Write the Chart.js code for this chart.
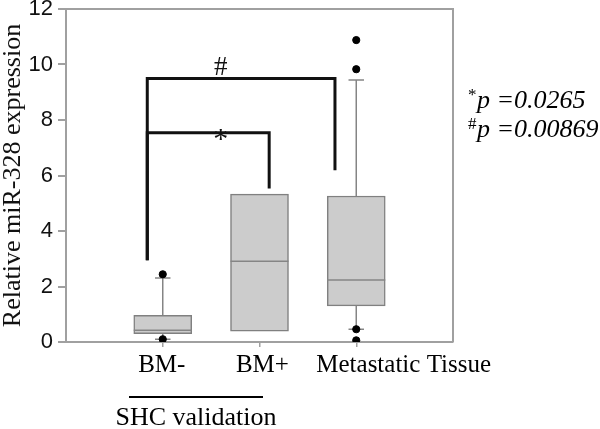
<!DOCTYPE html>
<html>
<head>
<meta charset="utf-8">
<script src="https://cdn.jsdelivr.net/npm/chart.js@4/dist/chart.umd.min.js"></script>
<style>
  html, body { margin: 0; padding: 0; background: #fff; }
  #wrap { width: 600px; height: 429px; }
</style>
</head>
<body>
<div id="wrap"><canvas id="chart"></canvas></div>
<script>
// box plot data
const categories = ["BM-", "BM+", "Metastatic Tissue"];
const q1 = [0.30, 0.39, 1.30];
const medians = [0.42, 2.91, 2.23];
const q3 = [0.96, 5.33, 5.26];
const whiskerLow = [0.10, 0.39, 0.46];
const whiskerHigh = [2.31, 5.33, 9.44];
const outliers = [[2.44, 0.10], [], [10.88, 9.83, 0.46, 0.06]];
const yTicks = [0, 2, 4, 6, 8, 10, 12];

// significance brackets (data units)
const bracketLabels = ["#", "*"];
const bracketLeft = [0.84, 0.84];
const bracketRight = [2.78, 2.10];
const bracketTop = [9.5, 7.54];
const bracketFootLeft = [2.95, 2.95];
const bracketFootRight = [6.19, 5.53];
const bracketLabelX = [1.6, 1.6];

const pLabels = [["*", "p =0.0265"], ["#", "p =0.00869"]];

const labelPos = [0.99, 2.03, 3.49]; // where the category text sits on the x axis
const serif = '"Liberation Serif", "Times New Roman", serif';
const sans = '"Liberation Sans", Arial, sans-serif';

const boxDetails = {
  id: "boxDetails",
  afterDatasetDraw(chart, args) {
    if (args.meta.type !== "bar") return;
    const { ctx, scales: { x, y } } = chart;
    const bars = args.meta.data;
    ctx.save();
    ctx.strokeStyle = "#858585";
    ctx.lineWidth = 1.5;
    categories.forEach((c, i) => {
      const cx = x.getPixelForValue(i + 1);
      const half = bars[i].width / 2;
      const cap = x.getPixelForValue(i + 1.08) - cx;
      ctx.beginPath();
      // median
      ctx.moveTo(cx - half, y.getPixelForValue(medians[i]));
      ctx.lineTo(cx + half, y.getPixelForValue(medians[i]));
      // whiskers
      if (whiskerHigh[i] > q3[i]) {
        ctx.moveTo(cx, y.getPixelForValue(q3[i]));
        ctx.lineTo(cx, y.getPixelForValue(whiskerHigh[i]));
        ctx.moveTo(cx - cap, y.getPixelForValue(whiskerHigh[i]));
        ctx.lineTo(cx + cap, y.getPixelForValue(whiskerHigh[i]));
      }
      if (whiskerLow[i] < q1[i]) {
        ctx.moveTo(cx, y.getPixelForValue(q1[i]));
        ctx.lineTo(cx, y.getPixelForValue(whiskerLow[i]));
        ctx.moveTo(cx - cap, y.getPixelForValue(whiskerLow[i]));
        ctx.lineTo(cx + cap, y.getPixelForValue(whiskerLow[i]));
      }
      ctx.stroke();
    });
    ctx.restore();
  },
  afterDraw(chart) {
    const { ctx, chartArea: a, scales: { x, y } } = chart;
    ctx.save();
    // frame top + right
    ctx.strokeStyle = "#a0a0a0";
    ctx.lineWidth = 2;
    ctx.beginPath();
    ctx.moveTo(a.left, a.top);
    ctx.lineTo(a.right, a.top);
    ctx.lineTo(a.right, a.bottom);
    ctx.stroke();

    // bracket symbols
    ctx.fillStyle = "#111";
    ctx.textAlign = "center";
    ctx.textBaseline = "alphabetic";
    bracketLabels.forEach((lab, i) => {
      const mx = x.getPixelForValue(bracketLabelX[i]);
      const my = y.getPixelForValue(bracketTop[i]);
      ctx.font = (lab === "*" ? "30px " : "27px ") + serif;
      ctx.fillText(lab, mx, lab === "*" ? my + 15 : my - 3);
    });

    // category labels
    ctx.fillStyle = "#000";
    ctx.font = "25px " + serif;
    categories.forEach((c, i) => {
      ctx.fillText(c, x.getPixelForValue(labelPos[i]), 372);
    });

    // group line under BM- / BM+
    ctx.strokeStyle = "#000";
    ctx.lineWidth = 2;
    ctx.beginPath();
    ctx.moveTo(129, 397);
    ctx.lineTo(263, 397);
    ctx.stroke();
    ctx.font = "26px " + serif;
    ctx.fillText("SHC validation", 196, 425);

    // p values
    ctx.textAlign = "left";
    pLabels.forEach((p, i) => {
      const by = 108 + i * 29;
      ctx.font = "17px " + serif;
      ctx.fillText(p[0], 468, by - 8);
      ctx.font = "italic 26px " + serif;
      ctx.fillText(p[1], 477, by);
    });
    ctx.restore();
  }
};

const boxData = categories.map((c, i) => ({ x: i + 1, y: [q1[i], q3[i]] }));
const outlierData = [];
outliers.forEach((vals, i) => vals.forEach(v => outlierData.push({ x: i + 1, y: v })));
const bracketSets = bracketLabels.map((lab, i) => ({
  type: "line",
  label: lab,
  data: [
    { x: bracketLeft[i], y: bracketFootLeft[i] },
    { x: bracketLeft[i], y: bracketTop[i] },
    { x: bracketRight[i], y: bracketTop[i] },
    { x: bracketRight[i], y: bracketFootRight[i] }
  ],
  borderColor: "#111",
  borderWidth: 3,
  pointRadius: 0,
  fill: false,
  tension: 0,
  order: 2
}));

new Chart(document.getElementById("chart"), {
  type: "bar",
  data: {
    datasets: [
      {
        type: "bar",
        data: boxData,
        backgroundColor: "#cccccc",
        borderColor: "#808080",
        borderWidth: 1.5,
        borderSkipped: false,
        barThickness: 58,
        order: 3
      },
      ...bracketSets,
      {
        type: "scatter",
        data: outlierData,
        backgroundColor: "#000",
        borderColor: "#000",
        pointRadius: 3.6,
        order: 1
      }
    ]
  },
  options: {
    responsive: true,
    maintainAspectRatio: false,
    animation: false,
    layout: { padding: { left: 0, top: 9, right: 147, bottom: 0 } },
    plugins: { legend: { display: false }, tooltip: { enabled: false } },
    scales: {
      x: {
        type: "linear",
        offset: false,
        min: 0,
        max: 4,
        afterBuildTicks: s => { s.ticks = categories.map((c, i) => ({ value: i + 1 })); },
        afterFit: s => { s.height = 87; s.paddingLeft = 0; s.paddingRight = 0; },
        ticks: { display: false },
        grid: { offset: false, drawOnChartArea: false, color: "#a0a0a0", tickLength: 5, lineWidth: 1.5 },
        border: { color: "#a0a0a0", width: 2 }
      },
      y: {
        min: 0,
        max: 12,
        afterBuildTicks: s => { s.ticks = yTicks.map(v => ({ value: v })); },
        afterFit: s => { s.width = 66; s.paddingTop = 0; s.paddingBottom = 0; },
        ticks: { color: "#111", padding: 5, font: { family: sans, size: 22 } },
        grid: { drawOnChartArea: false, color: "#a0a0a0", tickLength: 8, lineWidth: 2 },
        border: { color: "#a0a0a0", width: 2 },
        title: {
          display: true,
          text: "Relative miR-328 expression",
          color: "#111",
          padding: { top: 0, bottom: 0 },
          font: { family: serif, size: 26, lineHeight: 1.0 }
        }
      }
    }
  },
  plugins: [boxDetails]
});
</script>
</body>
</html>
